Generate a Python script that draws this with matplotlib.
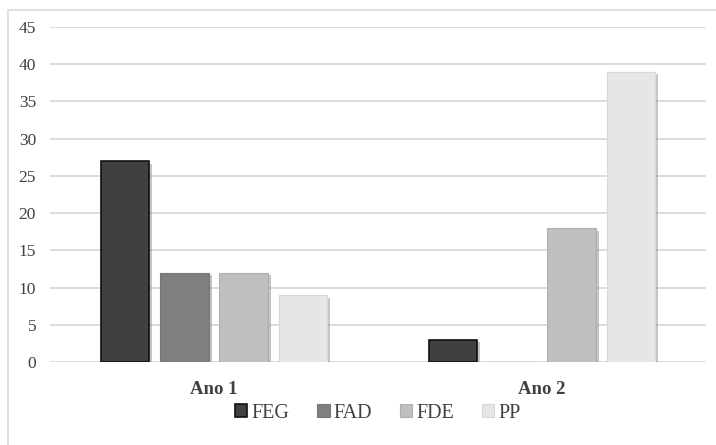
import numpy as np
import matplotlib.pyplot as plt
import matplotlib.patheffects as pe
from matplotlib.patches import Rectangle

anos = ['Ano 1', 'Ano 2']
series = ['FEG', 'FAD', 'FDE', 'PP']
feg = [27, 3]
fad = [12, 0]
fde = [12, 18]
pp = [9, 39]

valores = [feg, fad, fde, pp]
cores = ['#404040', '#7f7f7f', '#bfbfbf', '#e6e6e6']
bordas = ['#111111', '#777777', '#b0b0b0', '#d8d8d8']

plt.rcParams['font.family'] = ['Liberation Serif', 'DejaVu Serif']

fig = plt.figure(figsize=(7.16, 4.45), dpi=100)
fig.patches.append(Rectangle((8 / 716, -0.01), 1.0, 1 - 10 / 445 + 0.01,
                             transform=fig.transFigure, fill=False,
                             edgecolor='#d9d9d9', linewidth=1.2))
ax = fig.add_axes([50 / 716, 1 - 362 / 445, 656 / 716, 335 / 445])

x = np.arange(len(anos))
passo = 0.181
largura = 0.149
sombra = [pe.SimplePatchShadow(offset=(2, -2), shadow_rgbFace='#808080', alpha=0.45), pe.Normal()]
for i, (nome, v) in enumerate(zip(series, valores)):
    pos = x + (i - 1.5) * passo
    ax.bar(pos, v, largura, color=cores[i], edgecolor=bordas[i],
           linewidth=1.2 if i == 0 else 0.8, label=nome, zorder=3,
           path_effects=sombra)

ax.set_xlim(-0.5, 1.5)
ax.set_ylim(0, 45)
ax.set_yticks(range(0, 46, 5))
ax.yaxis.grid(True, color='#d9d9d9', linewidth=1.3, zorder=0)
ax.set_axisbelow(True)
for s in ax.spines.values():
    s.set_visible(False)
ax.tick_params(axis='y', length=0, labelsize=12.5, labelcolor='#404040', pad=10)
ax.tick_params(axis='x', length=0, labelsize=13.5, labelcolor='#404040', pad=14)
ax.set_xticks(x)
ax.set_xticklabels(anos, fontweight='bold')

leg = ax.legend(loc='upper center', bbox_to_anchor=(0.5, -0.07), ncol=4, frameon=False,
                fontsize=14.5, handlelength=0.6, handleheight=0.6, handletextpad=0.2,
                columnspacing=1.4, labelcolor='#404040')
for h in leg.legend_handles:
    h.set_path_effects([pe.Normal()])

fig.savefig('out.png', dpi=100)
